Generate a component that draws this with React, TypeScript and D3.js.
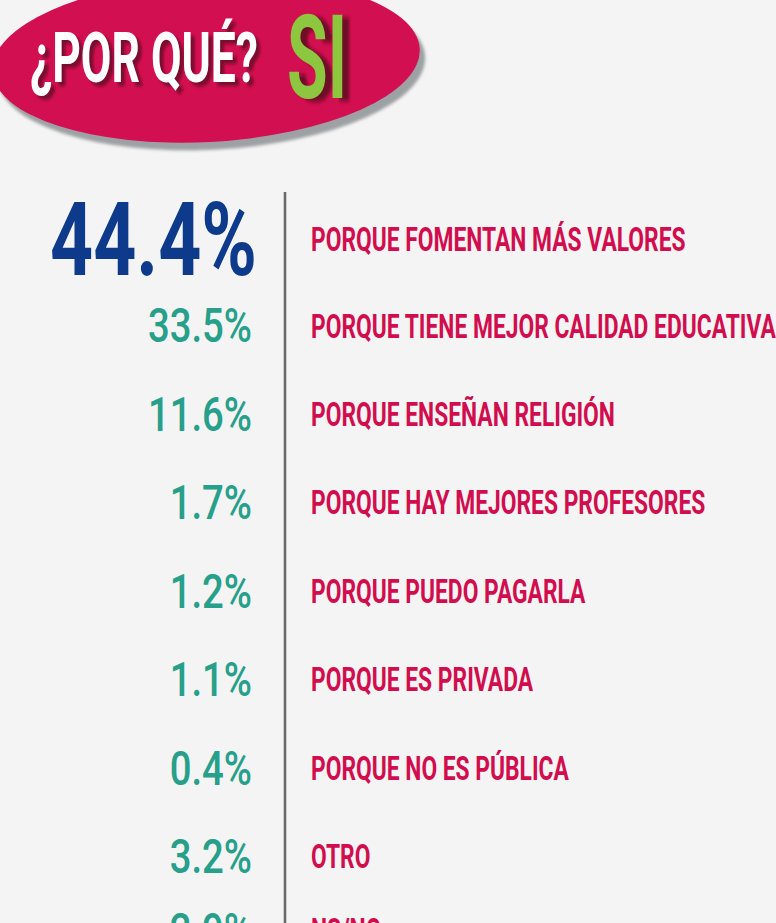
import React, { useEffect, useRef } from "react";
import * as d3 from "d3";

// ---- data ----
const categories: string[] = [
  "PORQUE FOMENTAN MÁS VALORES",
  "PORQUE TIENE MEJOR CALIDAD EDUCATIVA",
  "PORQUE ENSEÑAN RELIGIÓN",
  "PORQUE HAY MEJORES PROFESORES",
  "PORQUE PUEDO PAGARLA",
  "PORQUE ES PRIVADA",
  "PORQUE NO ES PÚBLICA",
  "OTRO",
  "NS/NC",
];
const values: number[] = [44.4, 33.5, 11.6, 1.7, 1.2, 1.1, 0.4, 3.2, 2.9];
const titleText = "¿POR QUÉ?";
const answerText = "SI";

// ---- layout / style ----
const W = 776;
const H = 923;
const FONT = "Roboto, 'Liberation Sans', 'DejaVu Sans', sans-serif";
const CAP = 0.711;
const BG = "#f4f4f4";
const PINK = "#d20f50";
const CRIMSON = "#d10d4e";
const TEAL = "#27a08b";
const NAVY = "#0e3a8c";
const GREEN = "#8dc63f";

export default function App() {
  const ref = useRef<SVGSVGElement>(null);

  useEffect(() => {
    const svg = d3.select(ref.current);
    svg.selectAll("*").remove();

    const defs = svg.append("defs");
    defs
      .append("filter")
      .attr("id", "blur2")
      .attr("x", "-20%")
      .attr("y", "-20%")
      .attr("width", "140%")
      .attr("height", "140%")
      .append("feGaussianBlur")
      .attr("stdDeviation", 1.6);
    defs
      .append("filter")
      .attr("id", "blur3")
      .attr("x", "-20%")
      .attr("y", "-20%")
      .attr("width", "140%")
      .attr("height", "140%")
      .append("feGaussianBlur")
      .attr("stdDeviation", 2.2);

    svg.append("rect").attr("width", W).attr("height", H).attr("fill", BG);

    // ---- header ellipse ----
    const cx = 206, cy = 60, rx = 214, ry = 82;
    svg
      .append("ellipse")
      .attr("cx", cx + 5)
      .attr("cy", cy + 8)
      .attr("rx", rx)
      .attr("ry", ry)
      .attr("transform", `rotate(-3,${cx},${cy})`)
      .attr("fill", "#9ea1a3")
      .attr("filter", "url(#blur2)");
    svg
      .append("ellipse")
      .attr("cx", cx)
      .attr("cy", cy)
      .attr("rx", rx)
      .attr("ry", ry)
      .attr("transform", `rotate(-3,${cx},${cy})`)
      .attr("fill", PINK);

    const fitText = (
      parent: d3.Selection<any, any, any, any>,
      text: string,
      x: number,
      baseline: number,
      size: number,
      targetWidth: number,
      fill: string,
      shadow?: { dx: number; dy: number; color: string; filter: string }
    ) => {
      const g = parent.append("g");
      const t = g
        .append("text")
        .attr("font-family", FONT)
        .attr("font-weight", 700)
        .attr("font-size", size)
        .attr("fill", fill)
        .text(text);
      const w = (t.node() as SVGTextElement).getComputedTextLength();
      const k = targetWidth / w;
      if (shadow) {
        g.insert("text", "text")
          .attr("font-family", FONT)
          .attr("font-weight", 700)
          .attr("font-size", size)
          .attr("fill", shadow.color)
          .attr("x", shadow.dx / k)
          .attr("y", shadow.dy)
          .attr("filter", shadow.filter)
          .text(text);
      }
      g.attr("transform", `translate(${x},${baseline}) scale(${k},1)`);
    };

    fitText(svg, titleText, 30, 82, 50 / CAP, 228, "#ffffff", {
      dx: 4,
      dy: 4,
      color: "#7a0a2f",
      filter: "url(#blur2)",
    });
    fitText(svg, answerText, 287, 98, 83 / CAP, 60, GREEN, {
      dx: 7,
      dy: 3,
      color: "#6e0828",
      filter: "url(#blur3)",
    });

    // ---- rows ----
    const rowY = d3
      .scaleLinear()
      .domain([0, 1, 7, 8])
      .range([238, 325, 856, 930]);
    const fmt = (v: number) => d3.format(".1f")(v) + "%";

    // vertical divider
    svg
      .append("line")
      .attr("x1", 285)
      .attr("x2", 285)
      .attr("y1", 192)
      .attr("y2", H)
      .attr("stroke", "#6a6a6a")
      .attr("stroke-width", 2.6);

    const rows = categories.map((c, i) => ({ c, v: values[i], i }));

    // labels
    const labelSize = 24 / CAP;
    const labelG = svg.append("g");
    const labelNodes = labelG
      .selectAll("g")
      .data(rows)
      .join("g");
    labelNodes
      .append("text")
      .attr("font-family", FONT)
      .attr("font-weight", 700)
      .attr("font-size", labelSize)
      .attr("fill", CRIMSON)
      .text((d) => d.c);
    let maxW = 0;
    labelNodes.selectAll<SVGTextElement, any>("text").each(function () {
      maxW = Math.max(maxW, this.getComputedTextLength());
    });
    const kLabel = 465 / maxW;
    labelNodes.attr(
      "transform",
      (d) =>
        `translate(311,${rowY(d.i) + (24 + (d.i < 2 ? 2 : 0)) / 2}) scale(${kLabel},1)`
    );

    // percentages
    const pctSmall = 34 / CAP;
    const pctBig = 73 / CAP;
    const pctG = svg.append("g");
    const pctNodes = pctG.selectAll("g").data(rows).join("g");
    pctNodes
      .append("text")
      .attr("font-family", FONT)
      .attr("font-weight", (d) => (d.i === 0 ? 700 : 500))
      .attr("font-size", (d) => (d.i === 0 ? pctBig : pctSmall))
      .attr("fill", (d) => (d.i === 0 ? NAVY : TEAL))
      .attr("text-anchor", "end")
      .text((d) => fmt(d.v));
    let maxSmall = 0;
    let bigW = 1;
    pctNodes.selectAll<SVGTextElement, any>("text").each(function (d: any) {
      const w = this.getComputedTextLength();
      if (d.i === 0) bigW = w;
      else maxSmall = Math.max(maxSmall, w);
    });
    const kSmall = 104 / maxSmall;
    const kBig = 207 / bigW;
    pctNodes.attr("transform", (d) =>
      d.i === 0
        ? `translate(257,${rowY(d.i) + 73 / 2}) scale(${kBig},1)`
        : `translate(252,${rowY(d.i) + 34 / 2}) scale(${kSmall},1)`
    );
  }, []);

  return (
    <svg
      ref={ref}
      width={W}
      height={H}
      style={{ position: "fixed", left: 0, top: 0, display: "block" }}
    />
  );
}
